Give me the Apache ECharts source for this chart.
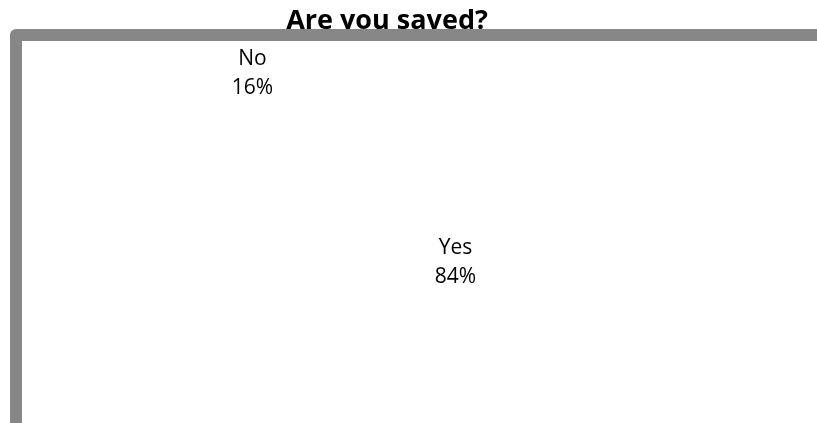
<!DOCTYPE html>
<html>
<head>
<meta charset="utf-8">
<script src="https://cdn.jsdelivr.net/npm/echarts@6/dist/echarts.min.js"></script>
<style>
  html, body { margin: 0; padding: 0; background: #ffffff; }
  #chart { width: 817px; height: 423px; }
</style>
</head>
<body>
<div id="chart"></div>
<script>
// Survey answers and their shares (percent)
const answers = ['Yes', 'No'];
const shares = [84, 16];
const chartTitle = 'Are you saved?';

const chart = echarts.init(document.getElementById('chart'), null, { renderer: 'canvas' });

const pieData = answers.map((name, i) => ({ name: name, value: shares[i] }));

chart.setOption({
  animation: false,
  backgroundColor: '#ffffff',
  title: {
    text: chartTitle,
    left: 387,
    textAlign: 'center',
    top: 8,
    padding: 0,
    textStyle: {
      fontFamily: 'Open Sans',
      fontWeight: 'bold',
      fontSize: 27,
      color: '#000000'
    },
    z: 50
  },
  series: [{
    type: 'pie',
    center: [354, 168],
    radius: [0, 272],
    startAngle: 108.1,
    clockwise: true,
    silent: true,
    z: 2,
    itemStyle: { color: '#ffffff', borderWidth: 0 },
    label: {
      show: true,
      position: 'inside',
      formatter: function (p) { return p.name + '\n' + Math.round(p.percent) + '%'; },
      fontFamily: 'Open Sans',
      fontSize: 21,
      lineHeight: 29,
      color: '#000000'
    },
    labelLine: { show: false },
    emphasis: { disabled: true },
    data: pieData
  }],
  // Frame drawn over the plot area, with its top-left corner rounded
  graphic: [{
    type: 'rect',
    z: 100,
    silent: true,
    shape: { x: 16, y: 35, width: 1000, height: 600 },
    style: { fill: null, stroke: '#878787', lineWidth: 12, lineJoin: 'round' }
  }]
});
</script>
</body>
</html>
